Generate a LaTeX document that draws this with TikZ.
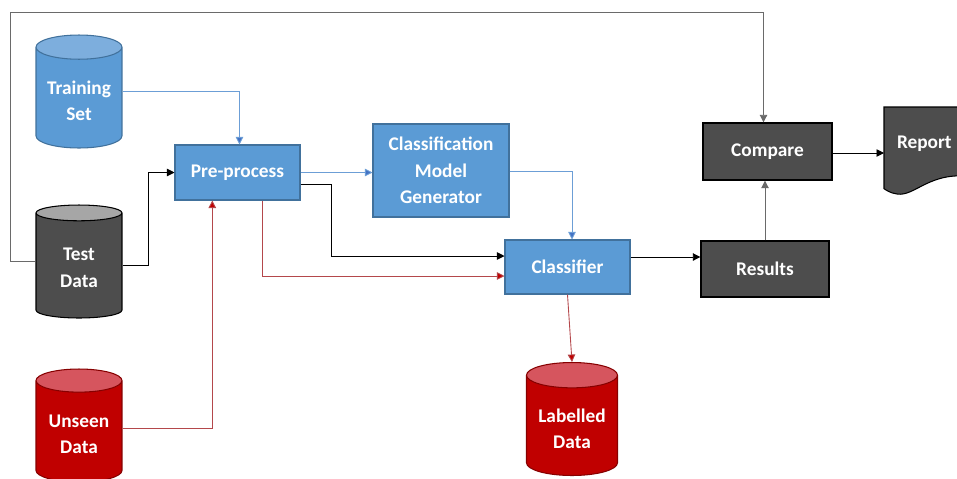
\documentclass[tikz,border=0pt]{standalone}
\usepackage{fontspec}
\setmainfont{Carlito}
\usetikzlibrary{positioning,arrows.meta,shapes.geometric,calc,backgrounds}

\definecolor{boxblue}{HTML}{5B9BD5}
\definecolor{boxblueline}{HTML}{41719C}
\definecolor{topblue}{HTML}{7DAEDD}
\definecolor{boxdark}{HTML}{4D4D4D}
\definecolor{topdark}{HTML}{A6A6A6}
\definecolor{boxred}{HTML}{C00000}
\definecolor{topred}{HTML}{D6555E}
\definecolor{lineblue}{HTML}{6C9ED6}
\definecolor{tipblue}{HTML}{4472C4}
\definecolor{linered}{HTML}{B4474B}
\definecolor{linegray}{HTML}{6A6A6A}

\begin{document}
\begin{tikzpicture}[
    x=0.02cm, y=-0.02cm,
    box/.style={
        draw,
        align=center,
        minimum width=2.5cm,
        minimum height=1.1cm,
        font=\fontsize{11}{15}\selectfont\bfseries,
        text=white,
        line width=0.6pt,
        inner sep=2pt
    },
    bluebox/.style={box, fill=boxblue, draw=boxblueline},
    darkbox/.style={box, fill=boxdark, draw=black, line width=0.8pt},
    drum/.style={
        cylinder,
        shape border rotate=90,
        aspect=0.32,
        draw,
        cylinder uses custom fill,
        minimum width=1.72cm,
        minimum height=2.26cm,
        anchor=shape center,
        align=center,
        font=\fontsize{11}{15}\selectfont\bfseries,
        text=white,
        line width=0.6pt
    },
    bluedrum/.style={drum, draw=boxblueline, cylinder body fill=boxblue, cylinder end fill=topblue},
    darkdrum/.style={drum, draw=black, cylinder body fill=boxdark, cylinder end fill=topdark},
    reddrum/.style={drum, draw=boxred!70!black, cylinder body fill=boxred, cylinder end fill=topred},
    arrow/.style={-{Triangle[length=1.5mm,width=1.5mm]}, line width=0.5pt}
]
\clip (0,0) rectangle (957,478);

% data stores
\node[bluedrum] (train) at (79,91.5) {Training\\Set};
\node[darkdrum] (test) at (79,261.5) {Test\\Data};
\node[reddrum] (unseen) at (79,425.5) {Unseen\\Data};
\node[reddrum, minimum width=1.82cm] (labelled) at (572,419) {Labelled\\Data};

% process boxes
\node[bluebox] (pre) at (237.5,172.5) {Pre-process};
\node[bluebox, minimum width=2.72cm, minimum height=1.86cm] (cmg) at (441,170.5) {Classification\\Model\\Generator};
\node[bluebox, minimum height=1.08cm] (cls) at (567.5,267) {Classifier};
\node[darkbox, minimum width=2.58cm, minimum height=1.14cm] (cmp) at (767.5,151.5) {Compare};
\node[darkbox, minimum width=2.56cm, minimum height=1.12cm] (res) at (765,269) {Results};

% report (document shape)
\node[minimum width=1.6cm, minimum height=1.44cm, anchor=north west, inner sep=0pt,
      font=\fontsize{11}{15}\selectfont\bfseries, text=white] (report) at (884,107) {Report};
\begin{scope}[on background layer]
\fill[boxdark, draw=black, line width=0.6pt]
    (report.north west) -- ++(90,0) -- ++(0,70)
    .. controls (930,170) and (915,197) .. (897,194)
    .. controls (890,193) and (886,190) .. ($(report.south west)+(0,9)$) -- cycle;
\end{scope}

\coordinate (loop) at (10,12);

% connectors
\draw[arrow, lineblue, -{Triangle[length=1.5mm,width=1.5mm,fill=tipblue]}] (train.shape center -| train.east) -| ([xshift=0.04cm]pre.north);
\draw[arrow, black] ([yshift=-0.07cm]test.shape center -| test.east) -- ++(26,0) |- (pre.west);
\draw[arrow, linegray] (test.shape center -| test.west) -| (loop) -| ([xshift=-0.08cm]cmp.north);
\draw[arrow, linered, -{Triangle[length=1.5mm,width=1.5mm,fill=boxred]}] ([yshift=-0.05cm]unseen.shape center -| unseen.east) -| ($(pre.south west)!0.3!(pre.south east)$);
\draw[arrow, lineblue, -{Triangle[length=1.5mm,width=1.5mm,fill=tipblue]}] (pre.east) -- (pre.east -| cmg.west);
\draw[arrow, black] ([yshift=-0.24cm]pre.east) -- ++(31,0) |- ([yshift=0.22cm]cls.west);
\draw[arrow, linered, -{Triangle[length=1.5mm,width=1.5mm,fill=boxred]}] ($(pre.south west)!0.7!(pre.south east)$) |- ([yshift=-0.18cm]cls.west);
\draw[arrow, lineblue, -{Triangle[length=1.5mm,width=1.5mm,fill=tipblue]}] ([yshift=-0.02cm]cmg.east) -| ([xshift=0.09cm]cls.north);
\draw[arrow, black] ([yshift=0.2cm]cls.east) -- ([yshift=0.2cm]cls.east -| res.west);
\draw[arrow, linegray] (res.north) -- (res.north |- cmp.south);
\draw[arrow, black] ([yshift=-0.03cm]cmp.east) -- ([yshift=-0.03cm]cmp.east -| report.west);
\draw[arrow, linered, -{Triangle[length=1.5mm,width=1.5mm,fill=boxred]}] (cls.south) -- (labelled.north);
\end{tikzpicture}
\end{document}
